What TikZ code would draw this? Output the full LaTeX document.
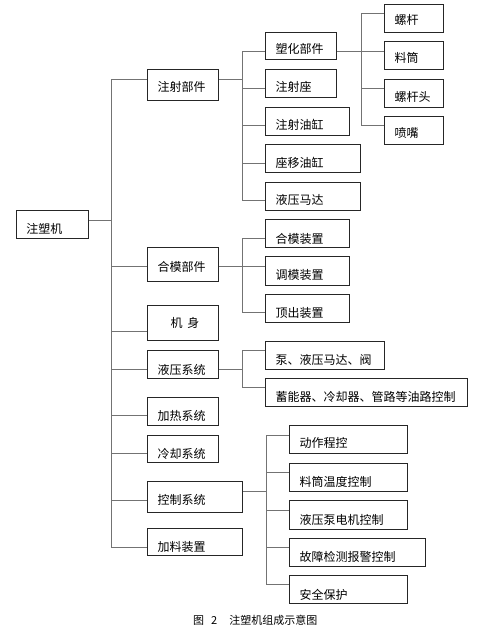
\documentclass[tikz,border=0pt]{standalone}
\usepackage{fontspec}
\setmainfont{Noto Sans CJK SC}
\begin{document}
\begin{tikzpicture}[x=1pt,y=-1pt]
\tikzset{
  bx/.style={draw=black!85, line width=1pt, anchor=north west, inner xsep=10pt, inner ysep=4pt,
    align=left, font=\fontsize{12pt}{14pt}\selectfont, text depth=0pt},
  conn/.style={draw=black!55, line width=1pt},
  captext/.style={font=\fontsize{11pt}{13pt}\selectfont, anchor=west, inner sep=0pt}
}
\useasboundingbox (0,0) rectangle (479,632);
% root
\node[bx, minimum width=72pt, text width=52pt, minimum height=28pt, text height=17pt] (R) at (16,210) {注塑机};
% level 1
\node[bx, minimum width=71pt, text width=51pt, minimum height=31pt, text height=12pt] (A) at (147,69) {注射部件};
\node[bx, minimum width=71pt, text width=51pt, minimum height=34pt, text height=13pt] (B) at (147,247) {合模部件};
\node[bx, minimum width=71pt, text width=51pt, minimum height=35pt, text height=9pt] (C) at (147,305) {\hspace*{13pt}机\hspace{5pt}身};
\node[bx, minimum width=71pt, text width=51pt, minimum height=28pt, text height=19pt] (D) at (147,350) {液压系统};
\node[bx, minimum width=71pt, text width=51pt, minimum height=28pt, text height=18pt] (E) at (147,397) {加热系统};
\node[bx, minimum width=71pt, text width=51pt, minimum height=27pt, text height=18pt] (F) at (147,435) {冷却系统};
\node[bx, minimum width=95pt, text width=75pt, minimum height=31pt, text height=15pt] (G) at (147,481) {控制系统};
\node[bx, minimum width=95pt, text width=75pt, minimum height=27pt, text height=19pt] (H) at (147,528) {加料装置};
% injection children
\node[bx, minimum width=71pt, text width=51pt, minimum height=27pt, text height=15pt] (A1) at (265,32) {塑化部件};
\node[bx, minimum width=71pt, text width=51pt, minimum height=28pt, text height=15pt] (A2) at (265,69) {注射座};
\node[bx, minimum width=84pt, text width=64pt, minimum height=28pt, text height=15pt] (A3) at (265,107) {注射油缸};
\node[bx, minimum width=95pt, text width=75pt, minimum height=28pt, text height=17pt] (A4) at (265,144) {座移油缸};
\node[bx, minimum width=95pt, text width=75pt, minimum height=28pt, text height=15pt] (A5) at (265,182) {液压马达};
% plasticizing children
\node[bx, minimum width=59pt, text width=39pt, minimum height=28pt, text height=11pt] (P1) at (384,4) {螺杆};
\node[bx, minimum width=59pt, text width=39pt, minimum height=28pt, text height=14pt] (P2) at (384,41) {料筒};
\node[bx, minimum width=59pt, text width=39pt, minimum height=28pt, text height=15pt] (P3) at (384,79) {螺杆头};
\node[bx, minimum width=59pt, text width=39pt, minimum height=28pt, text height=14pt] (P4) at (384,116) {喷嘴};
% clamping children
\node[bx, minimum width=84pt, text width=64pt, minimum height=28pt, text height=19pt] (B1) at (265,219) {合模装置};
\node[bx, minimum width=84pt, text width=64pt, minimum height=29pt, text height=16pt] (B2) at (265,256) {调模装置};
\node[bx, minimum width=84pt, text width=64pt, minimum height=28pt, text height=18pt] (B3) at (265,294) {顶出装置};
% hydraulic children
\node[bx, minimum width=119pt, text width=99pt, minimum height=28pt, text height=17pt] (D1) at (265,341) {泵、液压马达、阀};
\node[bx, minimum width=202pt, text width=182pt, minimum height=28pt, text height=18pt] (D2) at (265,378) {蓄能器、冷却器、管路等油路控制};
% control children
\node[bx, minimum width=118pt, text width=98pt, minimum height=28pt, text height=16pt] (G1) at (289,425) {动作程控};
\node[bx, minimum width=118pt, text width=98pt, minimum height=28pt, text height=17pt] (G2) at (289,463) {料筒温度控制};
\node[bx, minimum width=118pt, text width=98pt, minimum height=29pt, text height=18pt] (G3) at (289,500) {液压泵电机控制};
\node[bx, minimum width=136pt, text width=116pt, minimum height=28pt, text height=17pt] (G4) at (289,538) {故障检测报警控制};
\node[bx, minimum width=118pt, text width=98pt, minimum height=28pt, text height=19pt] (G5) at (289,575) {安全保护};
% caption
\node[captext] (title) at (193,620) {图\hspace{7pt}2\hspace{12pt}注塑机组成示意图};

% bus x positions
\coordinate (m) at (111,0);
\coordinate (s) at (242,0);
\coordinate (p) at (361,0);
\coordinate (k) at (266,0);

% connection points
\coordinate (r) at ([yshift=4pt]R.east);
\coordinate (a) at ([yshift=5.5pt]A.west);
\coordinate (aR) at ([yshift=5.5pt]A.east);
\coordinate (b) at ([yshift=-2pt]B.west);
\coordinate (bR) at ([yshift=-2pt]B.east);
\coordinate (c) at ([yshift=-8.5pt]C.west);
\coordinate (d) at ([yshift=-5pt]D.west);
\coordinate (dR) at ([yshift=-5pt]D.east);
\coordinate (e) at ([yshift=-4pt]E.west);
\coordinate (f) at ([yshift=-4.5pt]F.west);
\coordinate (g) at ([yshift=-3.5pt]G.west);
\coordinate (gR) at ([yshift=5.5pt]G.east);
\coordinate (h) at ([yshift=-5.5pt]H.west);
\coordinate (a1) at ([yshift=-5.5pt]A1.west);
\coordinate (a1R) at ([yshift=-5.5pt]A1.east);
\coordinate (a2) at ([yshift=-5pt]A2.west);
\coordinate (a3) at ([yshift=-4pt]A3.west);
\coordinate (a4) at ([yshift=-5pt]A4.west);
\coordinate (a5) at ([yshift=-4pt]A5.west);
\coordinate (p1) at ([yshift=5pt]P1.west);
\coordinate (p2) at ([yshift=4pt]P2.west);
\coordinate (p3) at ([yshift=5pt]P3.west);
\coordinate (p4) at ([yshift=5pt]P4.west);
\coordinate (b1) at ([yshift=-5pt]B1.west);
\coordinate (b2) at ([yshift=4.5pt]B2.west);
\coordinate (b3) at ([yshift=-4pt]B3.west);
\coordinate (d1) at ([yshift=5pt]D1.west);
\coordinate (d2) at ([yshift=5pt]D2.west);
\coordinate (g1) at ([yshift=4pt]G1.west);
\coordinate (g2) at ([yshift=5pt]G2.west);
\coordinate (g3) at ([yshift=4.5pt]G3.west);
\coordinate (g4) at ([yshift=5pt]G4.west);
\coordinate (g5) at ([yshift=5pt]G5.west);

% main bus
\draw[conn] (r) -- (r -| m);
\draw[conn] (a -| m) -- (h -| m);
\foreach \q in {a,b,c,d,e,f,g,h} \draw[conn] (\q -| m) -- (\q);
% injection bus
\draw[conn] (aR) -- (aR -| s);
\draw[conn] (a1 -| s) -- (a5 -| s);
\foreach \q in {a1,a2,a3,a4,a5} \draw[conn] (\q -| s) -- (\q);
% plasticizing bus
\draw[conn] (a1R) -- (a1R -| p);
\draw[conn] (p1 -| p) -- (p4 -| p);
\foreach \q in {p1,p2,p3,p4} \draw[conn] (\q -| p) -- (\q);
% clamping bus
\draw[conn] (bR) -- (bR -| s);
\draw[conn] (b1 -| s) -- (b3 -| s);
\foreach \q in {b1,b2,b3} \draw[conn] (\q -| s) -- (\q);
% hydraulic bus
\draw[conn] (dR) -- (dR -| s);
\draw[conn] (d1 -| s) -- (d2 -| s);
\foreach \q in {d1,d2} \draw[conn] (\q -| s) -- (\q);
% control bus
\draw[conn] (gR) -- (gR -| k);
\draw[conn] (g1 -| k) -- (g5 -| k);
\foreach \q in {g1,g2,g3,g4,g5} \draw[conn] (\q -| k) -- (\q);
\end{tikzpicture}
\end{document}
